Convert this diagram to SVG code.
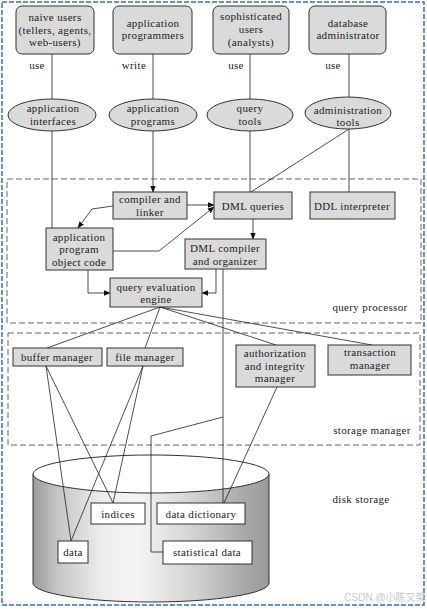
<svg xmlns="http://www.w3.org/2000/svg" width="427" height="609" viewBox="0 0 427 609">
<style>
text{font-family:"Liberation Serif","Times New Roman",serif;font-size:11px;letter-spacing:0.35px;fill:#222;text-anchor:middle}
.box{fill:#dadada;stroke:#333;stroke-width:1}
.wbox{fill:#fff;stroke:#333;stroke-width:1}
.ln{fill:none;stroke:#222;stroke-width:0.8}
.dash{fill:none;stroke:#666;stroke-width:1;stroke-dasharray:6 3}
.wm{font-family:"Liberation Sans","Noto Sans CJK SC",sans-serif;font-size:10px;letter-spacing:0;fill:#c8c8c8}
</style>
<defs>
<marker id="ah" viewBox="0 0 10 10" refX="9" refY="5" markerWidth="7" markerHeight="7" orient="auto" markerUnits="userSpaceOnUse">
<path d="M0,1 L10,5 L0,9 Z" fill="#111"/>
</marker>
<linearGradient id="cyl" x1="0" y1="0" x2="1" y2="0">
<stop offset="0" stop-color="#9a9a9a"/>
<stop offset="0.1" stop-color="#c4c4c4"/>
<stop offset="0.3" stop-color="#eeeeee"/>
<stop offset="0.45" stop-color="#f4f4f4"/>
<stop offset="0.7" stop-color="#cfcfcf"/>
<stop offset="0.9" stop-color="#a8a8a8"/>
<stop offset="1" stop-color="#999"/>
</linearGradient>
</defs>
<rect x="0" y="0" width="427" height="609" fill="#fff"/>
<rect x="2" y="2" width="422" height="603" fill="none" stroke="#3b6cc0" stroke-width="1.5" stroke-dasharray="5 2"/>

<!-- dashed regions -->
<rect class="dash" x="7" y="179" width="414" height="144"/>
<rect class="dash" x="8" y="333" width="412" height="112"/>
<text x="370" y="311">query processor</text>
<text x="372" y="434">storage manager</text>

<!-- disk cylinder -->
<g id="disk">
<path d="M33,474 L33,583 A118,19 0 0 0 269,583 L269,474 Z" fill="url(#cyl)" stroke="#333" stroke-width="1"/>
<ellipse cx="151" cy="474" rx="118" ry="19" fill="#fff" stroke="#333" stroke-width="1"/>
</g>
<text x="361" y="503">disk storage</text>

<!-- connectors -->
<g id="connectors">
<line class="ln" x1="52" y1="54" x2="52" y2="99"/>
<line class="ln" x1="153" y1="54" x2="153" y2="99"/>
<line class="ln" x1="250" y1="54" x2="250" y2="99"/>
<line class="ln" x1="349" y1="54" x2="349" y2="97"/>
<line class="ln" x1="52" y1="131" x2="52" y2="228"/>
<line class="ln" x1="153" y1="131" x2="153" y2="192" marker-end="url(#ah)"/>
<line class="ln" x1="250" y1="131" x2="250" y2="192"/>
<line class="ln" x1="349" y1="129" x2="349" y2="192"/>
<line class="ln" x1="349" y1="129" x2="251" y2="192"/>
<line class="ln" x1="187" y1="205" x2="214" y2="205" marker-end="url(#ah)"/>
<polyline class="ln" points="113,206 92,209 78,228" marker-end="url(#ah)"/>
<polyline class="ln" points="113,251 159,251 214,207" marker-end="url(#ah)"/>
<line class="ln" x1="253" y1="219" x2="253" y2="239" marker-end="url(#ah)"/>
<polyline class="ln" points="88,270 88,293 110,293" marker-end="url(#ah)"/>
<polyline class="ln" points="216,269 216,293 202,293" marker-end="url(#ah)"/>
<line class="ln" x1="223" y1="269" x2="223" y2="503"/>
<polyline class="ln" points="223,417 151,436 151,552 163,552"/>
<line class="ln" x1="160" y1="307" x2="47" y2="348"/>
<line class="ln" x1="160" y1="307" x2="145" y2="348"/>
<line class="ln" x1="160" y1="307" x2="276" y2="345"/>
<line class="ln" x1="160" y1="307" x2="372" y2="345"/>
<line class="ln" x1="46" y1="366" x2="71" y2="541"/>
<line class="ln" x1="46" y1="366" x2="113" y2="503"/>
<line class="ln" x1="143" y1="366" x2="71" y2="541"/>
<line class="ln" x1="143" y1="366" x2="113" y2="503"/>
<line class="ln" x1="277" y1="387" x2="224" y2="503"/>
</g>

<!-- labels on edges -->
<text x="37" y="69">use</text>
<text x="134" y="69">write</text>
<text x="236" y="69">use</text>
<text x="333" y="69">use</text>

<!-- top users -->
<g id="naive-users">
<rect class="box" x="16" y="6" width="78" height="48" rx="6"/>
<text x="55" y="21">naive users</text>
<text x="55" y="33.5">(tellers, agents,</text>
<text x="55" y="46">web-users)</text>
</g>
<g id="app-programmers">
<rect class="box" x="113" y="6" width="79" height="48" rx="6"/>
<text x="153" y="26.5">application</text>
<text x="153" y="39">programmers</text>
</g>
<g id="sophisticated-users">
<rect class="box" x="213" y="6" width="76" height="48" rx="6"/>
<text x="251" y="20">sophisticated</text>
<text x="251" y="32.5">users</text>
<text x="251" y="45.5">(analysts)</text>
</g>
<g id="dba">
<rect class="box" x="309" y="6" width="77" height="48" rx="6"/>
<text x="348" y="26.5">database</text>
<text x="348" y="39">administrator</text>
</g>

<!-- ellipses -->
<g id="app-interfaces">
<ellipse class="box" cx="52" cy="115" rx="44" ry="16"/>
<text x="53" y="112">application</text>
<text x="53" y="124.5">interfaces</text>
</g>
<g id="app-programs">
<ellipse class="box" cx="153" cy="115" rx="44" ry="16"/>
<text x="153" y="112">application</text>
<text x="153" y="124.5">programs</text>
</g>
<g id="query-tools">
<ellipse class="box" cx="250" cy="115" rx="43" ry="16"/>
<text x="250" y="112">query</text>
<text x="250" y="124.5">tools</text>
</g>
<g id="admin-tools">
<ellipse class="box" cx="348" cy="113" rx="43" ry="16"/>
<text x="348" y="113.5">administration</text>
<text x="348" y="126">tools</text>
</g>

<!-- query processor -->
<g id="compiler-linker">
<rect class="box" x="113" y="192" width="74" height="27"/>
<text x="150" y="203">compiler and</text>
<text x="150" y="216">linker</text>
</g>
<g id="dml-queries">
<rect class="box" x="214" y="192" width="78" height="27"/>
<text x="253" y="209.5">DML queries</text>
</g>
<g id="ddl-interpreter">
<rect class="box" x="310" y="192" width="85" height="27"/>
<text x="352" y="209.5">DDL interpreter</text>
</g>
<g id="app-object-code">
<rect class="box" x="46" y="228" width="67" height="42"/>
<text x="79" y="240.5">application</text>
<text x="79" y="253">program</text>
<text x="79" y="265.5">object code</text>
</g>
<g id="dml-compiler">
<rect class="box" x="185" y="239" width="81" height="30"/>
<text x="225" y="252">DML compiler</text>
<text x="225" y="264.5">and organizer</text>
</g>
<g id="query-eval">
<rect class="box" x="110" y="278" width="92" height="29"/>
<text x="156" y="290.5">query evaluation</text>
<text x="156" y="303">engine</text>
</g>

<!-- storage manager -->
<g id="buffer-manager">
<rect class="box" x="13" y="348" width="89" height="18"/>
<text x="57" y="360.5">buffer manager</text>
</g>
<g id="file-manager">
<rect class="box" x="107" y="348" width="76" height="18"/>
<text x="145" y="360.5">file manager</text>
</g>
<g id="auth-manager">
<rect class="box" x="236" y="345" width="79" height="42"/>
<text x="275" y="357">authorization</text>
<text x="275" y="369.5">and integrity</text>
<text x="275" y="382">manager</text>
</g>
<g id="transaction-manager">
<rect class="box" x="328" y="345" width="83" height="30"/>
<text x="370" y="356">transaction</text>
<text x="370" y="369">manager</text>
</g>

<!-- disk contents -->
<g id="indices">
<rect class="wbox" x="91" y="503" width="54" height="21"/>
<text x="118" y="517.5">indices</text>
</g>
<g id="data-dictionary">
<rect class="wbox" x="157" y="503" width="88" height="21"/>
<text x="201" y="517.5">data dictionary</text>
</g>
<g id="data">
<rect class="wbox" x="58" y="541" width="30" height="22"/>
<text x="73" y="555.5">data</text>
</g>
<g id="statistical-data">
<rect class="wbox" x="163" y="541" width="89" height="23"/>
<text x="207" y="556">statistical data</text>
</g>

<text class="wm" x="385" y="601">CSDN @小陈又菜</text>
</svg>
